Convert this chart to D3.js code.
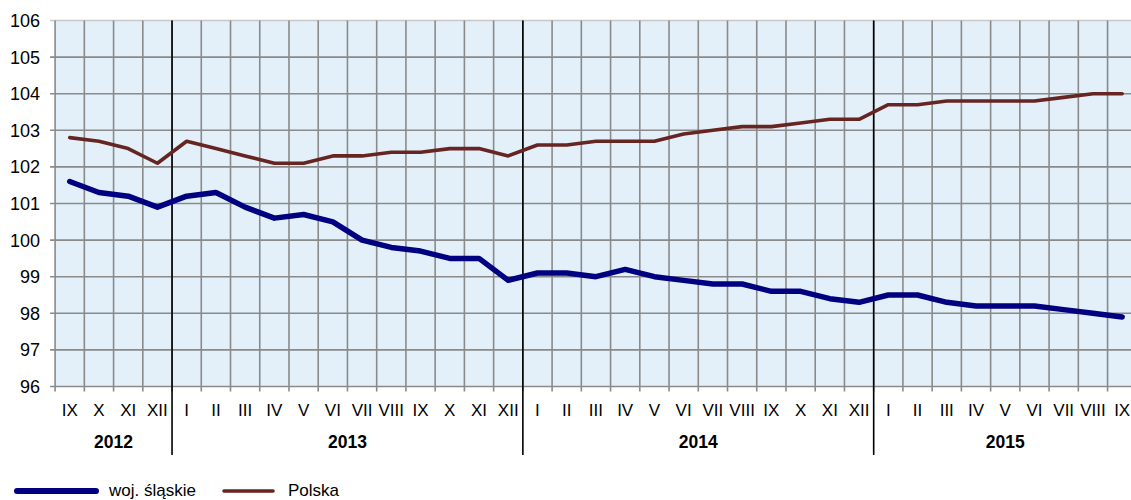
<!DOCTYPE html>
<html><head><meta charset="utf-8">
<script src="https://cdn.jsdelivr.net/npm/d3@7"></script>
<style>
html,body{margin:0;padding:0;background:#fff;}
svg{display:block;font-family:"Liberation Sans",Arial,sans-serif;}
</style></head>
<body><svg id="c" width="1131" height="500"></svg>
<script>
const months = ["IX","X","XI","XII",
  "I","II","III","IV","V","VI","VII","VIII","IX","X","XI","XII",
  "I","II","III","IV","V","VI","VII","VIII","IX","X","XI","XII",
  "I","II","III","IV","V","VI","VII","VIII","IX"];
const years = [{label:"2012", n:4},{label:"2013", n:12},{label:"2014", n:12},{label:"2015", n:9}];
const slaskie = [101.6,101.3,101.2,100.9,
  101.2,101.3,100.9,100.6,100.7,100.5,100.0,99.8,99.7,99.5,99.5,98.9,
  99.1,99.1,99.0,99.2,99.0,98.9,98.8,98.8,98.6,98.6,98.4,98.3,
  98.5,98.5,98.3,98.2,98.2,98.2,98.1,98.0,97.9];
const polska = [102.8,102.7,102.5,102.1,
  102.7,102.5,102.3,102.1,102.1,102.3,102.3,102.4,102.4,102.5,102.5,102.3,
  102.6,102.6,102.7,102.7,102.7,102.9,103.0,103.1,103.1,103.2,103.3,103.3,
  103.7,103.7,103.8,103.8,103.8,103.8,103.9,104.0,104.0];
const yTicks = [96,97,98,99,100,101,102,103,104,105,106];
const seriesNames = ["woj. śląskie","Polska"];

const svg = d3.select("#c");
const L = 55.1, R = 1136.8, T = 20.5, B = 386.5;
const x = d3.scaleBand().domain(d3.range(months.length)).range([L, R]).paddingInner(0).paddingOuter(0);
const y = d3.scaleLinear().domain([96,106]).range([B, T]);
const bw = x.bandwidth();

// plot background
svg.append("rect").attr("x", L).attr("y", T).attr("width", R - L).attr("height", B - T).attr("fill", "#E3F0FA");

// horizontal gridlines
svg.append("g").selectAll("line").data(yTicks).join("line")
  .attr("x1", L - 5).attr("x2", R).attr("y1", d => y(d)).attr("y2", d => y(d))
  .attr("stroke", d => d === 106 ? "#c8c8c8" : "#8a8a8a").attr("stroke-width", 1.6);

// vertical gridlines (category boundaries)
const bounds = d3.range(months.length + 1).map(i => L + i * bw);
svg.append("g").selectAll("line").data(bounds).join("line")
  .attr("x1", d => d).attr("x2", d => d).attr("y1", T).attr("y2", B + 5)
  .attr("stroke", "#8a8a8a").attr("stroke-width", 1.6);

// y labels
svg.append("g").selectAll("text").data(yTicks).join("text")
  .attr("x", 40).attr("y", d => y(d)).attr("dy", "0.36em").attr("text-anchor", "end")
  .attr("font-size", 18).attr("fill", "#000").text(d => d);

// month labels
svg.append("g").selectAll("text").data(months).join("text")
  .attr("x", (d, i) => x(i) + bw / 2).attr("y", 416).attr("text-anchor", "middle")
  .attr("font-size", 17).attr("fill", "#000").text(d => d);

// year separators and labels
let cum = 0;
const yearPos = years.map(d => { const s = cum; cum += d.n; return {label: d.label, s, e: cum}; });
svg.append("g").selectAll("line").data(yearPos.slice(1)).join("line")
  .attr("x1", d => L + d.s * bw).attr("x2", d => L + d.s * bw).attr("y1", T).attr("y2", 455)
  .attr("stroke", "#000").attr("stroke-width", 1.6);
svg.append("g").selectAll("text").data(yearPos).join("text")
  .attr("x", d => L + (d.s + d.e) / 2 * bw).attr("y", 447.5).attr("text-anchor", "middle")
  .attr("font-size", 17.5).attr("font-weight", "bold").attr("fill", "#000").text(d => d.label);

// lines
const line = d3.line().x((d, i) => x(i) + bw / 2).y(d => y(d));
svg.append("path").datum(polska).attr("d", line).attr("fill", "none")
  .attr("stroke", "#672522").attr("stroke-width", 3.6).attr("stroke-linejoin", "round").attr("stroke-linecap", "round");
svg.append("path").datum(slaskie).attr("d", line).attr("fill", "none")
  .attr("stroke", "#000080").attr("stroke-width", 5.5).attr("stroke-linejoin", "round").attr("stroke-linecap", "round");

// legend
const lg = svg.append("g");
lg.append("line").attr("x1", 17).attr("x2", 96).attr("y1", 491).attr("y2", 491)
  .attr("stroke", "#000080").attr("stroke-width", 6).attr("stroke-linecap", "round");
lg.append("text").attr("x", 109).attr("y", 495.5).attr("font-size", 17).text(seriesNames[0]);
lg.append("line").attr("x1", 224).attr("x2", 273).attr("y1", 491).attr("y2", 491)
  .attr("stroke", "#672522").attr("stroke-width", 3.6).attr("stroke-linecap", "round");
lg.append("text").attr("x", 288).attr("y", 495.5).attr("font-size", 17).text(seriesNames[1]);
</script></body></html>
